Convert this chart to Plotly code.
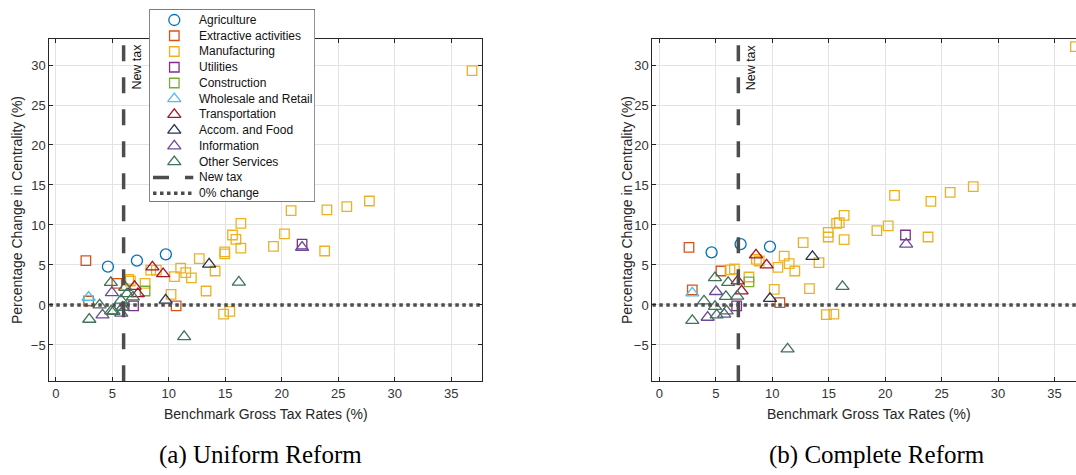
import plotly.graph_objects as go

# ---------------- data ----------------
SECTORS = ["Agriculture", "Extractive activities", "Manufacturing", "Utilities",
           "Construction", "Wholesale and Retail", "Transportation",
           "Accom. and Food", "Information", "Other Services"]
COLORS = ["#0072BD", "#D95319", "#EDB120", "#7E2F8E", "#77AC30",
          "#4DBEEE", "#A2142F", "#263350", "#6B4C9A", "#407359"]
SYMBOLS = ["circle-open", "square-open", "square-open", "square-open", "square-open",
           "triangle-up-open", "triangle-up-open", "triangle-up-open",
           "triangle-up-open", "triangle-up-open"]

# (a) Uniform Reform: (benchmark gross tax rate %, change in centrality %)
UNI_AGRI = [(4.61, 4.79), (7.18, 5.54), (9.74, 6.33)]
UNI_EXTR = [(2.66, 5.54), (5.4, 2.7), (2.9, 0.5), (10.65, -0.1)]
UNI_MANU = [(6.44, 3.2), (6.6, 3.0), (7.9, 2.7), (8.4, 4.35), (8.9, 4.35), (10.2, 1.33),
            (10.5, 3.55), (11.05, 4.6), (11.5, 4.05), (12.0, 3.4), (12.7, 5.8), (13.3, 1.75),
            (14.1, 4.25), (14.85, -1.15), (14.95, 6.65), (14.95, 6.4), (15.4, -0.8),
            (15.64, 8.75), (15.94, 8.2), (16.38, 10.2), (16.38, 7.1), (19.27, 7.33),
            (20.24, 8.9), (20.83, 11.8), (23.8, 6.75), (24.0, 11.9), (25.76, 12.3),
            (27.76, 13.0), (36.85, 29.3)]
UNI_UTIL = [(6.88, -0.1), (21.8, 7.6)]
UNI_CONS = [(7.9, 1.75)]
UNI_WHOL = [(2.9, 0.95)]
UNI_TRAN = [(8.55, 4.75), (9.5, 3.9), (6.97, 2.3), (7.26, 1.4)]
UNI_ACCO = [(13.57, 5.1), (9.72, 0.6)]
UNI_INFO = [(4.96, 1.54), (4.13, -1.25), (5.79, -1.04), (21.8, 7.2)]
UNI_OTHR = [(2.96, -1.8), (3.87, 0.0), (4.87, 2.8), (4.9, -0.75), (5.1, -0.8), (5.9, -0.3),
            (6.14, 2.2), (6.3, 1.4), (6.82, 1.0), (5.77, 0.6), (16.2, 2.85), (11.36, -3.96)]

# (b) Complete Reform
COM_AGRI = [(4.63, 6.58), (7.2, 7.6), (9.8, 7.3)]
COM_EXTR = [(2.63, 7.2), (5.46, 4.25), (2.92, 1.9), (10.68, 0.3)]
COM_MANU = [(6.26, 4.4), (6.65, 4.5), (7.94, 3.5), (8.6, 5.7), (8.85, 5.5), (10.18, 1.95),
            (10.5, 4.7), (11.06, 6.1), (11.5, 5.17), (12.0, 4.25), (12.74, 7.8), (13.3, 2.05),
            (14.14, 5.3), (14.8, -1.2), (14.96, 9.08), (14.96, 8.5), (15.46, -1.15),
            (15.7, 10.2), (15.94, 10.3), (16.37, 11.2), (16.37, 8.17), (19.27, 9.3),
            (20.27, 9.9), (20.83, 13.7), (23.8, 8.5), (24.05, 12.96), (25.76, 14.08),
            (27.8, 14.8), (36.85, 32.3)]
COM_UTIL = [(6.85, -0.1), (21.8, 8.75)]
COM_CONS = [(7.94, 2.9)]
COM_WHOL = [(2.92, 1.5)]
COM_TRAN = [(8.56, 6.25), (9.5, 5.0), (6.94, 3.0), (7.29, 1.75)]
COM_ACCO = [(13.56, 6.05), (9.8, 0.8)]
COM_INFO = [(5.02, 1.67), (4.28, -1.55), (5.75, -1.17), (21.86, 7.6)]
COM_OTHR = [(2.92, -1.95), (3.96, 0.5), (4.93, 3.4), (6.1, 2.8), (5.9, 1.05), (6.9, 1.1),
            (4.93, -0.2), (5.08, -1.25), (5.96, -0.75), (16.22, 2.3), (11.36, -5.5)]

NEW_TAX_UNI = 6
NEW_TAX_COM = 7
X_TICKS = [0, 5, 10, 15, 20, 25, 30, 35]
Y_TICKS = [-5, 0, 5, 10, 15, 20, 25, 30]
CAPTIONS = ["(a) Uniform Reform", "(b) Complete Reform"]
X_TITLE = "Benchmark Gross Tax Rates (%)"
Y_TITLE = "Percentage Change in Centrality (%)"
LEGEND_LINES = ["New tax", "0% change"]

UNI = [UNI_AGRI, UNI_EXTR, UNI_MANU, UNI_UTIL, UNI_CONS, UNI_WHOL, UNI_TRAN, UNI_ACCO, UNI_INFO, UNI_OTHR]
COM = [COM_AGRI, COM_EXTR, COM_MANU, COM_UTIL, COM_CONS, COM_WHOL, COM_TRAN, COM_ACCO, COM_INFO, COM_OTHR]

# ---------------- layout geometry ----------------
W, H = 1076, 475
YR = [-9.54, 33.25]
XR_A = [-0.58, 37.73]
XR_B = [-0.62, 36.9]
LINE_COL = "#4d4d4d"
AX_COL = "#262626"
FONT = "Liberation Sans, Arial, sans-serif"


def msize(sym):
    if sym.startswith("circle"):
        return 11
    if sym.startswith("square"):
        return 9.5
    return 11.5


fig = go.Figure()

for pts_list, xa, ya in [(UNI, "x", "y"), (COM, "x2", "y2")]:
    for i, pts in enumerate(pts_list):
        fig.add_trace(go.Scatter(
            x=[p[0] for p in pts], y=[p[1] for p in pts], mode="markers",
            xaxis=xa, yaxis=ya, showlegend=False, hoverinfo="x+y", name=SECTORS[i],
            marker=dict(symbol=SYMBOLS[i], size=msize(SYMBOLS[i]), color=COLORS[i],
                        line=dict(width=1.3, color=COLORS[i]))))

for xa, ya, xr, nt in [("x", "y", XR_A, NEW_TAX_UNI), ("x2", "y2", XR_B, NEW_TAX_COM)]:
    fig.add_trace(go.Scatter(x=[nt, nt], y=[YR[0], YR[1]], mode="lines", xaxis=xa, yaxis=ya,
                             showlegend=False, hoverinfo="skip",
                             line=dict(color=LINE_COL, width=3.5, dash="16px,16px")))
    fig.add_trace(go.Scatter(x=[xr[0], xr[1]], y=[0, 0], mode="lines", xaxis=xa, yaxis=ya,
                             showlegend=False, hoverinfo="skip",
                             line=dict(color=LINE_COL, width=3.5, dash="3.5px,3.5px")))

# ---------------- custom legend (own small axes, pixel-like units) ----------------
LX0, LX1, LY0, LY1 = 149.3, 315.0, 9.3, 201.7
LW, LH = LX1 - LX0, LY1 - LY0
ROW0, ROWSTEP = 10.7, 15.75
MX, TX = 25.0, 47.4

fig.add_trace(go.Scatter(x=[0, LW, LW, 0, 0], y=[0, 0, LH, LH, 0], mode="lines",
                         fill="toself", fillcolor="white", xaxis="x3", yaxis="y3",
                         showlegend=False, hoverinfo="skip",
                         line=dict(color=AX_COL, width=1)))
for i, name in enumerate(SECTORS):
    ry = ROW0 + ROWSTEP * i
    fig.add_trace(go.Scatter(x=[MX], y=[ry], mode="markers", xaxis="x3", yaxis="y3",
                             showlegend=False, hoverinfo="skip",
                             marker=dict(symbol=SYMBOLS[i], size=msize(SYMBOLS[i]),
                                         color=COLORS[i], line=dict(width=1.3, color=COLORS[i]))))
    fig.add_annotation(x=TX, y=ry, xref="x3", yref="y3", text=name, showarrow=False,
                       xanchor="left", yanchor="middle",
                       font=dict(family=FONT, size=12, color="#111"))
for j, (name, dash) in enumerate(zip(LEGEND_LINES, ["16px,16px", "3.5px,3.5px"])):
    ry = ROW0 + ROWSTEP * (len(SECTORS) + j)
    fig.add_trace(go.Scatter(x=[3.7, 44.0], y=[ry, ry], mode="lines", xaxis="x3", yaxis="y3",
                             showlegend=False, hoverinfo="skip",
                             line=dict(color=LINE_COL, width=3.5, dash=dash)))
    fig.add_annotation(x=TX, y=ry, xref="x3", yref="y3", text=name, showarrow=False,
                       xanchor="left", yanchor="middle",
                       font=dict(family=FONT, size=12, color="#111"))

# ---------------- axes ----------------
ydom = [(H - 381.3) / H, (H - 39.0) / H]
common_x = dict(tickvals=X_TICKS, ticks="inside", ticklen=4, tickcolor=AX_COL,
                showline=True, linecolor=AX_COL, linewidth=1, showgrid=True,
                gridcolor="#e3e3e3", zeroline=False,
                tickfont=dict(family=FONT, size=13, color="#333"))
common_y = dict(tickvals=Y_TICKS, ticks="inside", ticklen=4, tickcolor=AX_COL,
                showline=True, linecolor=AX_COL, linewidth=1, showgrid=True,
                gridcolor="#e3e3e3", zeroline=False, domain=ydom, range=YR,
                tickfont=dict(family=FONT, size=13, color="#333"))

fig.update_layout(
    width=W, height=H, margin=dict(l=0, r=0, t=0, b=0),
    paper_bgcolor="white", plot_bgcolor="white", showlegend=False,
    xaxis=dict(common_x, domain=[49.3 / W, 482.0 / W], range=XR_A, anchor="y", mirror="allticks"),
    yaxis=dict(common_y, anchor="x", mirror="allticks"),
    xaxis2=dict(common_x, domain=[652.3 / W, 1.0], range=XR_B, anchor="y2", mirror="allticks"),
    yaxis2=dict(common_y, anchor="x2", mirror=False),
    xaxis3=dict(domain=[LX0 / W, LX1 / W], range=[0, LW], visible=False, anchor="y3",
                fixedrange=True),
    yaxis3=dict(domain=[(H - LY1) / H, (H - LY0) / H], range=[LH, 0], visible=False,
                anchor="x3", fixedrange=True),
)

# "New tax" labels next to the dashed lines
for xr, yr, nt in [("x", "y", NEW_TAX_UNI), ("x2", "y2", NEW_TAX_COM)]:
    fig.add_annotation(x=nt, y=YR[1], xref=xr, yref=yr, text=LEGEND_LINES[0], showarrow=False,
                       textangle=-90, xanchor="left", yanchor="top", xshift=4, yshift=-3,
                       font=dict(family=FONT, size=12.5, color="#111"))

# axis titles and captions
for cx, capx, cap in [(265.6, 260.6, CAPTIONS[0]), (868.7, 877.0, CAPTIONS[1])]:
    fig.add_annotation(x=cx / W, y=(H - 414) / H, xref="paper", yref="paper", text=X_TITLE,
                       showarrow=False, xanchor="center", yanchor="middle",
                       font=dict(family=FONT, size=14, color="#262626"))
    fig.add_annotation(x=capx / W, y=(H - 455) / H, xref="paper", yref="paper", text=cap,
                       showarrow=False, xanchor="center", yanchor="middle",
                       font=dict(family="Liberation Serif, Times New Roman, serif", size=25,
                                 color="black"))
for tx in [17, 627]:
    fig.add_annotation(x=tx / W, y=(H - 210) / H, xref="paper", yref="paper", text=Y_TITLE,
                       showarrow=False, textangle=-90, xanchor="center", yanchor="middle",
                       font=dict(family=FONT, size=14, color="#262626"))

fig.write_html("out.html", config={"displayModeBar": False},
               post_script="document.body.style.margin='0px';")
